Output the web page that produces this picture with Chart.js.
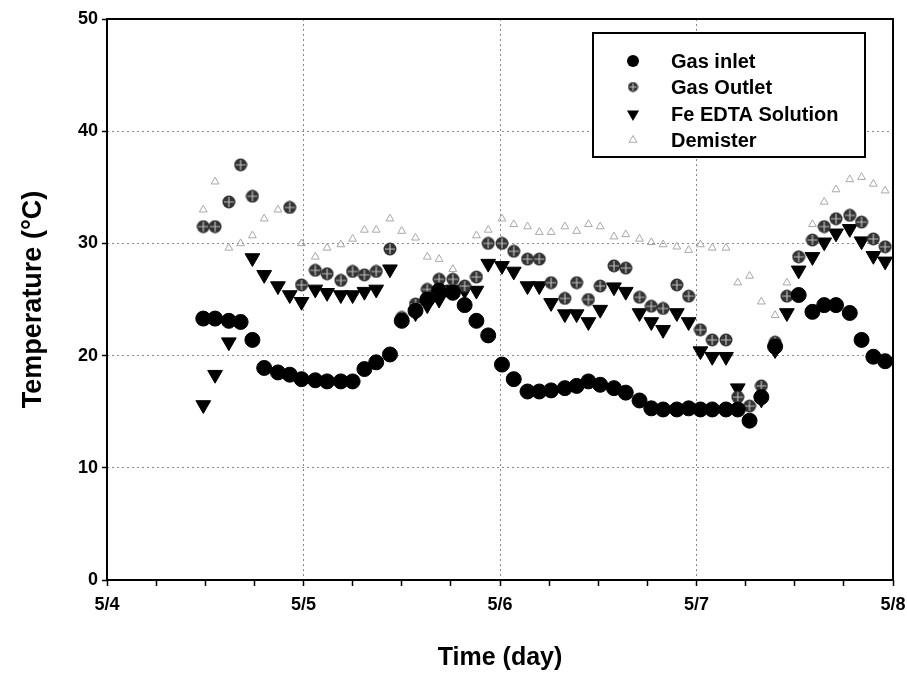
<!DOCTYPE html>
<html><head><meta charset="utf-8">
<script src="https://cdn.jsdelivr.net/npm/chart.js@4.4.1/dist/chart.umd.min.js"></script>
<style>html,body{margin:0;padding:0;background:#fff}canvas{display:block}</style>
</head><body>
<canvas id="c" width="907" height="678"></canvas>
<script>
// x ticks (days from 5/4)
const dayLabels = ['5/4', '5/5', '5/6', '5/7', '5/8'];
const yTicks = [0, 10, 20, 30, 40, 50];
// sample times, in days after 5/4 00:00
const times = [0.49,0.55,0.62,0.68,0.74,0.80,0.87,0.93,0.99,1.06,1.12,1.19,1.25,1.31,1.37,1.44,
  1.50,1.57,1.63,1.69,1.76,1.82,1.88,1.94,2.01,2.07,2.14,2.20,2.26,2.33,2.39,2.45,
  2.51,2.58,2.64,2.71,2.77,2.83,2.90,2.96,3.02,3.08,3.15,3.21,3.27,3.33,3.40,3.46,
  3.52,3.59,3.65,3.71,3.78,3.84,3.90,3.96];
const gasInlet = [23.3,23.3,23.1,23.0,21.4,18.9,18.5,18.3,17.9,17.8,17.7,17.7,17.7,18.8,19.4,20.1,
  23.1,24.0,25.0,25.8,25.6,24.5,23.1,21.8,19.2,17.9,16.8,16.8,16.9,17.1,17.3,17.7,
  17.4,17.1,16.7,16.0,15.3,15.2,15.2,15.3,15.2,15.2,15.2,15.2,14.2,16.3,20.8,null,
  25.4,23.9,24.5,24.5,23.8,21.4,19.9,19.5];
const gasOutlet = [31.5,31.5,33.7,37.0,34.2,null,null,33.2,26.3,27.6,27.3,26.7,27.5,27.2,27.5,29.5,
  23.4,24.6,25.9,26.8,26.8,26.2,27.0,30.0,30.0,29.3,28.6,28.6,26.5,25.1,26.5,25.0,
  26.2,28.0,27.8,25.2,24.4,24.2,26.3,25.3,22.3,21.4,21.4,16.3,15.5,17.3,21.2,25.3,
  28.8,30.3,31.5,32.2,32.5,31.9,30.4,29.7];
const feEdta = [15.6,18.3,21.2,null,28.7,27.2,26.2,25.4,24.8,25.9,25.6,25.4,25.4,25.7,25.9,27.7,
  null,23.8,24.5,25.0,25.9,25.8,25.8,28.2,28.0,27.5,26.2,26.2,24.7,23.7,23.7,23.0,
  24.1,26.1,25.7,23.8,23.0,22.3,23.8,23.0,20.4,19.9,19.9,17.1,null,16.1,20.5,23.8,
  27.6,28.8,30.1,30.9,31.3,30.2,28.9,28.4];
const demister = [33.0,35.5,29.6,30.0,30.7,32.2,33.0,33.3,30.0,28.8,29.6,29.9,30.4,31.2,31.2,32.2,
  31.1,30.5,28.8,28.6,27.7,null,30.7,31.2,32.2,31.7,31.5,31.0,31.0,31.5,31.1,31.7,
  31.5,30.6,30.8,30.4,30.1,29.9,29.7,29.4,29.9,29.6,29.6,26.5,27.1,24.8,23.6,26.5,
  29.0,31.7,33.7,34.8,35.7,35.9,35.3,34.7];
const seriesNames = ['Gas inlet', 'Gas Outlet', 'Fe EDTA Solution', 'Demister'];

function pts(vals) {
  const out = [];
  vals.forEach((v, i) => { if (v !== null) out.push({x: times[i], y: v}); });
  return out;
}

// speckled "circle with cross" marker for Gas Outlet
function makeOutletMarker(size) {
  const c = document.createElement('canvas');
  c.width = size; c.height = size;
  const g = c.getContext('2d');
  const r = size / 2;
  g.fillStyle = '#333';
  g.beginPath(); g.arc(r, r, r - 0.5, 0, Math.PI * 2); g.fill();
  g.strokeStyle = '#bdbdbd'; g.lineWidth = 1.2;
  g.beginPath(); g.moveTo(r, 2); g.lineTo(r, size - 2); g.moveTo(2, r); g.lineTo(size - 2, r); g.stroke();
  return c;
}
const outletImg = makeOutletMarker(14);

const FONT = "'Liberation Sans', Arial, sans-serif";

const styles = [
  {pointStyle: 'circle', radius: 7.5, bg: '#000', bd: '#000', bw: 1, rot: 0},
  {pointStyle: outletImg, radius: 7, bg: '#444', bd: '#444', bw: 0, rot: 0},
  {pointStyle: 'triangle', radius: 8.5, bg: '#000', bd: '#000', bw: 1, rot: 180},
  {pointStyle: 'triangle', radius: 4.5, bg: 'rgba(0,0,0,0)', bd: '#a8a8a8', bw: 1, rot: 0}
];
const seriesValues = [gasInlet, gasOutlet, feEdta, demister];

const datasets = seriesValues.map((vals, k) => ({
  label: seriesNames[k],
  data: pts(vals),
  showLine: false,
  pointStyle: styles[k].pointStyle,
  pointRadius: styles[k].radius,
  pointHoverRadius: styles[k].radius,
  pointBackgroundColor: styles[k].bg,
  pointBorderColor: styles[k].bd,
  pointBorderWidth: styles[k].bw,
  pointRotation: styles[k].rot
}));

const framePlugin = {
  id: 'frame',
  afterDatasetsDraw(chart) {
    const {ctx, chartArea: a} = chart;
    ctx.save();
    ctx.strokeStyle = '#000';
    ctx.lineWidth = 2;
    ctx.strokeRect(a.left, a.top, a.right - a.left, a.bottom - a.top);
    // legend box
    const bx = 593, by = 33, bw = 272, bh = 124;
    ctx.fillStyle = '#fff';
    ctx.fillRect(bx, by, bw, bh);
    ctx.strokeRect(bx, by, bw, bh);
    const rows = [61, 87, 114, 140];
    ctx.font = "bold 20px " + FONT;
    ctx.textBaseline = 'middle';
    ctx.textAlign = 'left';
    rows.forEach((ry, k) => {
      const mx = 633;
      ctx.fillStyle = '#000';
      if (k === 0) {
        ctx.beginPath(); ctx.arc(mx, ry, 6, 0, Math.PI * 2); ctx.fill();
      } else if (k === 1) {
        ctx.drawImage(makeOutletMarker(11), mx - 5.5, ry - 5.5);
      } else if (k === 2) {
        const r = 7;
        ctx.beginPath();
        ctx.moveTo(mx - r * 0.866, ry - r * 0.5);
        ctx.lineTo(mx + r * 0.866, ry - r * 0.5);
        ctx.lineTo(mx, ry + r);
        ctx.closePath(); ctx.fill();
      } else {
        const r = 4.5;
        ctx.strokeStyle = '#a8a8a8'; ctx.lineWidth = 1;
        ctx.beginPath();
        ctx.moveTo(mx, ry - r);
        ctx.lineTo(mx + r * 0.866, ry + r * 0.5);
        ctx.lineTo(mx - r * 0.866, ry + r * 0.5);
        ctx.closePath(); ctx.stroke();
      }
      ctx.fillStyle = '#000';
      ctx.fillText(seriesNames[k], 671, ry + 1);
    });
    ctx.restore();
  }
};

new Chart(document.getElementById('c'), {
  type: 'scatter',
  data: {datasets},
  options: {
    responsive: false,
    animation: false,
    events: [],
    layout: {padding: {left: 0, right: 14, top: 19, bottom: 0}},
    plugins: {legend: {display: false}, tooltip: {enabled: false}},
    scales: {
      x: {
        type: 'linear', min: 0, max: dayLabels.length - 1,
        afterFit(s) { s.height = 98; s.paddingLeft = 0; s.paddingRight = 0; },
        afterBuildTicks(s) {
          const t = [];
          for (let i = 0; i <= (dayLabels.length - 1) * 4; i++) t.push({value: i / 4});
          s.ticks = t;
        },
        ticks: {
          autoSkip: false, maxRotation: 0, padding: 8, color: '#000',
          font: {family: FONT, size: 18, weight: 'bold'},
          callback: (v) => Number.isInteger(v) ? dayLabels[v] : ''
        },
        grid: {
          color: (c) => (c.tick && Number.isInteger(c.tick.value) && c.tick.value > 0 && c.tick.value < dayLabels.length - 1) ? '#8a8a8a' : 'rgba(0,0,0,0)',
          lineWidth: 1, tickColor: '#000', tickLength: 6, tickWidth: 1.5
        },
        border: {display: false, dash: [2, 3]},
        title: {display: true, text: 'Time (day)', color: '#000', font: {family: FONT, size: 25, weight: 'bold'}, padding: {top: 0, bottom: 5}}
      },
      y: {
        min: yTicks[0], max: yTicks[yTicks.length - 1],
        afterFit(s) { s.width = 107; s.paddingTop = 0; s.paddingBottom = 0; },
        afterBuildTicks(s) { s.ticks = yTicks.map(v => ({value: v})); },
        ticks: {color: '#000', padding: 4, font: {family: FONT, size: 18, weight: 'bold'}},
        grid: {
          color: (c) => (c.tick && c.tick.value > yTicks[0] && c.tick.value < yTicks[yTicks.length - 1]) ? '#8a8a8a' : 'rgba(0,0,0,0)',
          lineWidth: 1, tickColor: '#000', tickLength: 5, tickWidth: 1.5
        },
        border: {display: false, dash: [2, 3]},
        title: {display: true, text: 'Temperature (°C)', color: '#000', font: {family: FONT, size: 27, weight: 'bold'}, padding: {top: 17, bottom: 0}}
      }
    }
  },
  plugins: [framePlugin]
});
</script>
</body></html>
